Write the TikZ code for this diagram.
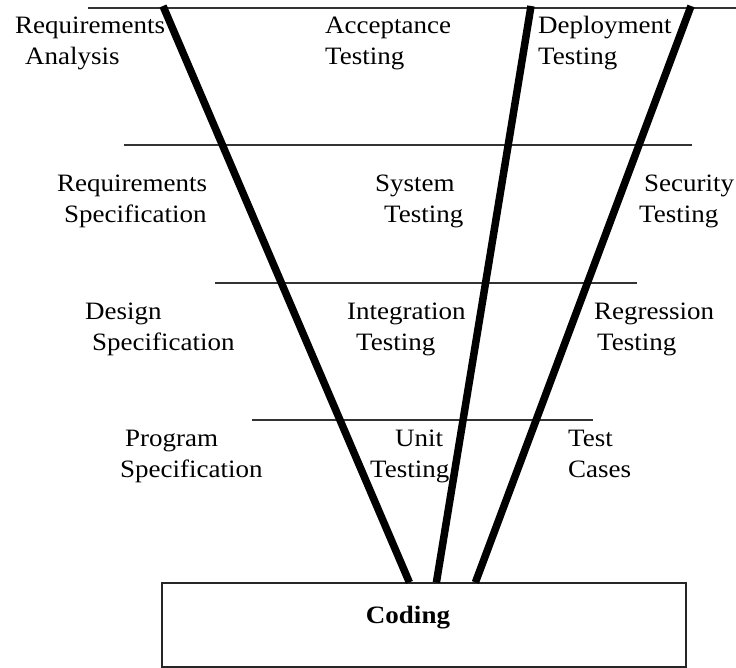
\documentclass[tikz,border=0pt]{standalone}
\usepackage{fontspec}
\setmainfont[FakeStretch=1.08]{Liberation Serif}
\usetikzlibrary{calc,positioning}
\tikzset{%
  phase/.style={%
    anchor=base west,
    align=left,
    inner sep=0pt,
    font=\fontsize{25}{31}\selectfont
  },
  levelline/.style={draw=black!80,line width=1.5pt},
  vleg/.style={draw=black,line width=7.5pt},
  codebox/.style={%
    draw=black!85,
    line width=1.2pt,
    minimum width=524pt,
    minimum height=84pt,
    inner sep=0pt
  }
}

\begin{document}
\begin{tikzpicture}[x=1pt,y=-1pt]
    \useasboundingbox (0,0) rectangle (736,668);

    % levels
    \coordinate (l1a) at (88,8);   \coordinate (l1b) at (736,8);
    \coordinate (l2a) at (124,145); \coordinate (l2b) at (692,145);
    \coordinate (l3a) at (215,283); \coordinate (l3b) at (637,283);
    \coordinate (l4a) at (252,420); \coordinate (l4b) at (593,420);
    \draw[levelline] (l1a) -- (l1b);
    \draw[levelline] (l2a) -- (l2b);
    \draw[levelline] (l3a) -- (l3b);
    \draw[levelline] (l4a) -- (l4b);

    % left column (anchored on the second line's baseline)
    \node[phase] (reqanal) at (15,65) {Requirements\\\hspace{10pt}Analysis};
    \node[phase] (reqspec) at (57,223) {Requirements\\\hspace{7pt}Specification};
    \node[phase] (design) at (85,350) {Design\\\hspace{7pt}Specification};
    \node[phase] (progspec) at (120,477) {\hspace{5pt}Program\\Specification};

    % middle column
    \node[phase] (accept) at (325,65) {Acceptance\\Testing};
    \node[phase] (systest) at (375,223) {System\\\hspace{9pt}Testing};
    \node[phase] (integ) at (347,350) {Integration\\\hspace{9pt}Testing};
    \node[phase] (unittest) at (370,477) {\hspace{25pt}Unit\\Testing};

    % right column
    \node[phase] (deploy) at (538,65) {Deployment\\Testing};
    \node[phase] (sectest) at (639,223) {\hspace{5pt}Security\\Testing};
    \node[phase] (regress) at (594,350) {Regression\\\hspace{3pt}Testing};
    \node[phase] (testcases) at (568,477) {Test\\Cases};

    % coding box
    \node[codebox] (codebox) at (424,625) {};
    \node[font=\fontsize{25}{31}\selectfont\bfseries,inner sep=0pt,anchor=base]
      (coding) at (408,623) {Coding};

    % the three legs
    \coordinate (topleft) at (163,6);
    \coordinate (topmid) at (531,6);
    \coordinate (topright) at (691,6);
    \draw[vleg] (topleft) -- ($(codebox.north west)+(248,0)$);
    \draw[vleg] (topmid) -- ($(codebox.north west)+(275,0)$);
    \draw[vleg] (topright) -- ($(codebox.north west)+(314,0)$);
\end{tikzpicture}
\end{document}
